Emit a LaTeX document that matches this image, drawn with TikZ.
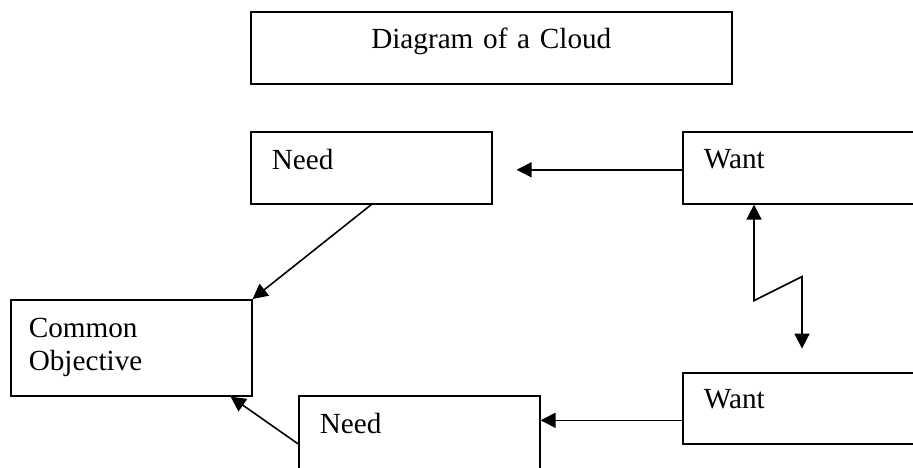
\documentclass[tikz,border=0pt]{standalone}
\usepackage{fontspec}
\setmainfont{Liberation Serif}
\usetikzlibrary{arrows.meta}

\begin{document}
\begin{tikzpicture}[x=0.5pt,y=-0.5pt,
		box/.style={draw=black, line width=0.8pt, rectangle, anchor=north west,
			inner xsep=10.5pt, inner ysep=0pt, text width=99.5pt, align=left,
			font=\fontsize{14.6}{16.5}\selectfont},
		link/.style={line width=0.8pt, -{Triangle[length=7.5pt,width=7.5pt]}},
		twoway/.style={line width=0.8pt, {Triangle[length=7.5pt,width=7.5pt]}-{Triangle[length=7.5pt,width=7.5pt]}}]
		\useasboundingbox (0,0) rectangle (913,467);
		\clip (0,0) rectangle (913,467);
		\node[box, align=center, text width=219.5pt, text height=18.5pt, text depth=17.5pt]
		(title) at (250,11) {Diagram of a Cloud};
		\node[box, text height=19pt, text depth=17pt] (needA) at (250,131) {Need};
		\node[box, text height=18.5pt, text depth=17.5pt] (wantA) at (682,131) {Want};
		\node[box, inner xsep=9pt, text width=102.5pt, text height=19pt, text depth=29pt]
		(goal) at (10,299) {Common\\Objective};
		\node[box, text height=19pt, text depth=29pt] (needB) at (298,395) {Need};
		\node[box, text height=18pt, text depth=17.5pt] (wantB) at (682,372) {Want};
		\draw[link] ([yshift=-1pt]wantA.west) -- ([xshift=12pt,yshift=-1pt]needA.east);
		\draw[link] (needA.south) -- (goal.north east);
		\draw[twoway] ([xshift=36pt]wantA.south west) -- ++(0,96) -- ++(48,-24) -- ++(0,72);
		\draw[link] ([yshift=-6pt]wantB.west) -- ([yshift=-6pt]wantB.west -| needB.east);
		\draw[link] (needB.west) -- ([xshift=-11pt]goal.south east);
	\end{tikzpicture}
\end{document}
